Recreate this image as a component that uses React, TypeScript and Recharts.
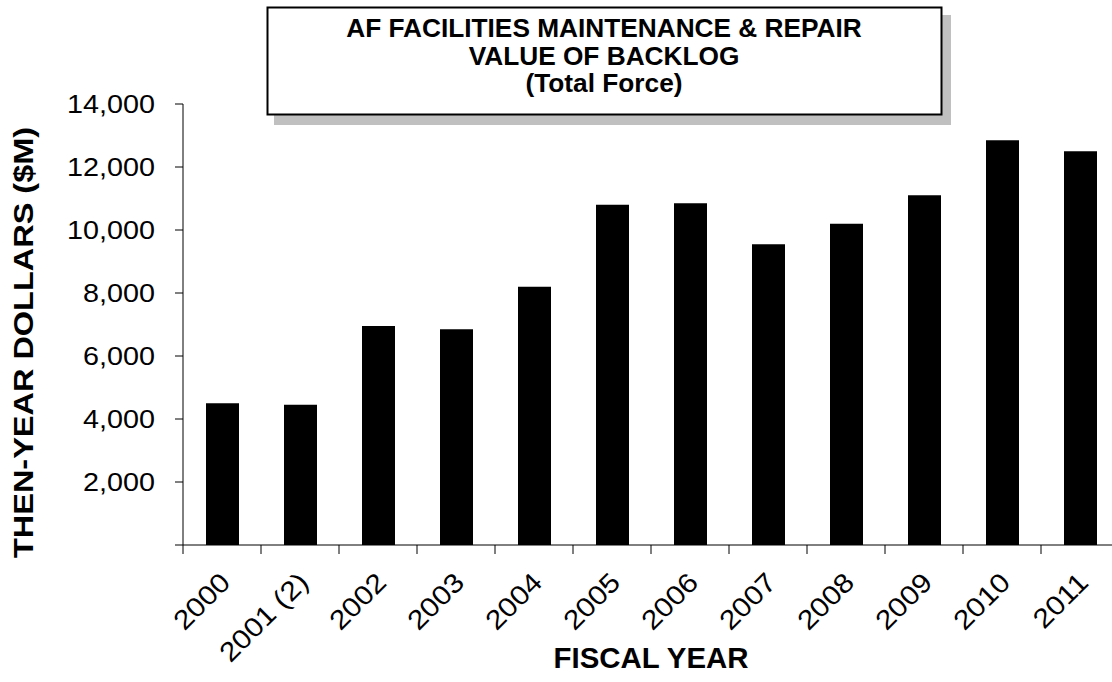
import { Bar, BarChart, XAxis, YAxis } from "recharts";

const years = ["2000", "2001 (2)", "2002", "2003", "2004", "2005", "2006", "2007", "2008", "2009", "2010", "2011"];
const backlog = [4500, 4450, 6950, 6850, 8200, 10800, 10850, 9550, 10200, 11100, 12850, 12500];
const yTicks = [0, 2000, 4000, 6000, 8000, 10000, 12000, 14000];
const titleLines = ["AF FACILITIES MAINTENANCE & REPAIR", "VALUE OF BACKLOG", "(Total Force)"];

const data = years.map((year, i) => ({ year, value: backlog[i] }));

const FONT = "'Liberation Sans', Arial, Helvetica, sans-serif";
const CHART_W = 1130;
const CHART_H = 682;
const Y_W = 183;
const MARGIN = { top: 104, right: 11, left: 0, bottom: 0 };
const BAND = (CHART_W - Y_W - MARGIN.left - MARGIN.right) / years.length;

function XTick(props: any) {
  const { x, y, payload } = props;
  return (
    <g>
      <line x1={x - BAND / 2} y1={y - 9} x2={x - BAND / 2} y2={y} stroke="#000" />
      <text
        transform={`translate(${x + 10},${y + 30}) rotate(-45) scale(1.12,1)`}
        textAnchor="end"
        fontFamily={FONT}
        fontSize={27}
        fill="#000"
      >
        {payload.value}
      </text>
    </g>
  );
}

function YTick(props: any) {
  const { x, y, payload } = props;
  if (payload.value === 0) return null;
  return (
    <text
      transform={`translate(${x - 20},${y + 9}) scale(1.15,1)`}
      textAnchor="end"
      fontFamily={FONT}
      fontSize={25}
      fill="#000"
    >
      {payload.value.toLocaleString("en-US")}
    </text>
  );
}

function YLabel(props: any) {
  const { viewBox } = props;
  const cy = viewBox.y + viewBox.height / 2 + 18;
  return (
    <text
      transform={`translate(33,${cy}) rotate(-90) scale(1.16,1)`}
      textAnchor="middle"
      fontFamily={FONT}
      fontSize={28}
      fontWeight="bold"
      fill="#000"
    >
      THEN-YEAR DOLLARS ($M)
    </text>
  );
}

function XLabel(props: any) {
  const { viewBox } = props;
  const cx = viewBox.x + viewBox.width / 2;
  return (
    <text
      transform={`translate(${cx},668) scale(0.98,1)`}
      textAnchor="middle"
      fontFamily={FONT}
      fontSize={30}
      fontWeight="bold"
      fill="#000"
    >
      FISCAL YEAR
    </text>
  );
}

function TitleBox() {
  return (
    <svg width={1112} height={130} style={{ position: "absolute", left: 0, top: 0 }}>
      <rect x={274} y={15} width={677} height={110} fill="#c0c0c0" />
      <rect x={267.5} y={7.5} width={674} height={107} fill="#fff" stroke="#000" strokeWidth={2} />
      {titleLines.map((t, i) => (
        <text
          key={t}
          transform={`translate(604,${37 + i * 27.5}) scale(1.05,1)`}
          textAnchor="middle"
          fontFamily={FONT}
          fontSize={25}
          fontWeight="bold"
          fill="#000"
        >
          {t}
        </text>
      ))}
    </svg>
  );
}

export default function App() {
  return (
    <div style={{ position: "absolute", left: 0, top: 0, width: 1112, height: 682, overflow: "hidden", background: "#fff" }}>
      <BarChart width={CHART_W} height={CHART_H} data={data} margin={MARGIN}>
        <XAxis
          dataKey="year"
          height={CHART_H - 545}
          interval={0}
          tickLine={false}
          tickSize={9}
          tickMargin={0}
          axisLine={{ stroke: "#000" }}
          tick={<XTick />}
          label={<XLabel />}
        />
        <YAxis
          width={Y_W}
          domain={[0, 14000]}
          ticks={yTicks}
          interval={0}
          tickSize={8}
          tickMargin={0}
          tickLine={{ stroke: "#000" }}
          axisLine={{ stroke: "#000" }}
          tick={<YTick />}
          label={<YLabel />}
        />
        <Bar dataKey="value" fill="#000" barSize={33} isAnimationActive={false} />
      </BarChart>
      <TitleBox />
    </div>
  );
}
